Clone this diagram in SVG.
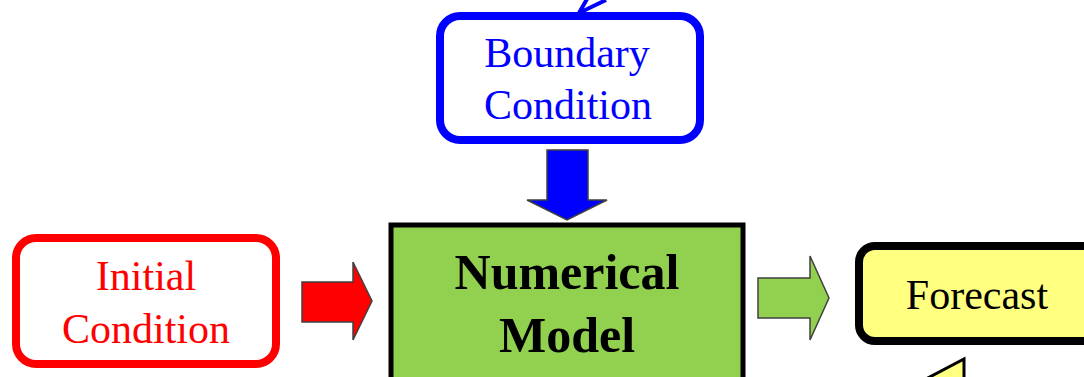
<svg xmlns="http://www.w3.org/2000/svg" width="1084" height="377" viewBox="0 0 1084 377">
<style>
.t{font-family:"Liberation Serif","Times New Roman",serif;font-size:42px;text-anchor:middle}
.arr{stroke:#404040;stroke-width:1.5;stroke-linejoin:miter}
</style>
<rect width="1084" height="377" fill="#fff"/>
<g id="connectors">
<polyline points="587,-1 579,13 606,0" fill="none" stroke="#0000ff" stroke-width="4"/>
<polygon class="arr" fill="#0000ff" points="547,150 588,150 588,200 607,200 567,220 527,200 547,200"/>
<polygon class="arr" fill="#ff0000" points="302,282 353,282 353,262 372,301 353,340 353,322 302,322"/>
<polygon class="arr" fill="#92d050" points="758,278 810,278 810,256 829,298 810,340 810,318 758,318"/>
</g>
<g id="boundary">
<rect x="440" y="16" width="260" height="124" rx="20" fill="#fff" stroke="#0000ff" stroke-width="8"/>
<text class="t" x="567" y="67" fill="#0000ff">Boundary</text>
<text class="t" x="568" y="119" fill="#0000ff">Condition</text>
</g>
<g id="initial">
<rect x="16" y="238" width="260" height="126" rx="20" fill="#fff" stroke="#ff0000" stroke-width="8"/>
<text class="t" x="146" y="290" fill="#ff0000">Initial</text>
<text class="t" x="146" y="343" fill="#ff0000">Condition</text>
</g>
<g id="model">
<rect x="391" y="225" width="352" height="170" fill="#92d050" stroke="#000" stroke-width="5"/>
<text class="t" x="567" y="289" font-weight="bold" fill="#000" style="font-size:50px">Numerical</text>
<text class="t" x="567" y="352" font-weight="bold" fill="#000" style="font-size:50px">Model</text>
</g>
<g id="forecast">
<rect x="859" y="246" width="250" height="95" rx="16" fill="#ffff80" stroke="#000" stroke-width="8"/>
<text class="t" x="977" y="309" fill="#000">Forecast</text>
</g>
<g id="callout">
<polygon points="964,359 964,380 924,380" fill="#ffff80" stroke="#000" stroke-width="3" stroke-linejoin="miter"/>
</g>
</svg>
